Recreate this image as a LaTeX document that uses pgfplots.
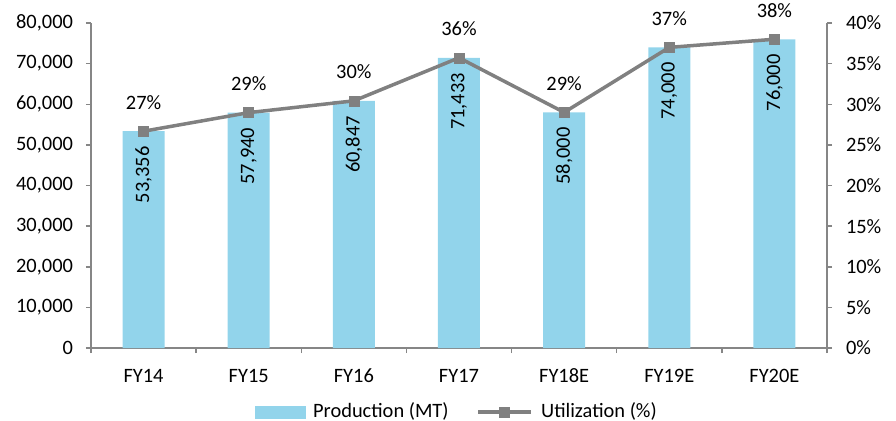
\documentclass[border=0pt]{standalone}
\usepackage{fontspec}
\setmainfont{Carlito}
\usepackage{pgfplots}
\usepackage{pgfplotstable}
\pgfplotsset{compat=1.18}

\definecolor{barblue}{RGB}{146,212,235}
\definecolor{linegray}{RGB}{128,128,128}
\definecolor{axisgray}{RGB}{134,134,134}

\pgfplotsset{
  utillegend/.style={legend image code/.code={%
    \draw[mark repeat=2,mark phase=2,##1] plot coordinates {(0bp,0bp) (26bp,0bp) (53bp,0bp)};
    \path (59bp,0bp);}},
  prodlegend/.style={legend image code/.code={%
    \fill[barblue] (0bp,-6bp) rectangle (50bp,6bp);
    \path (56bp,0bp);}},
}

% production (MT) and capacity utilization (%)
\pgfplotstableread{
idx prod  util
0   53356 26.68
1   57940 28.97
2   60847 30.42
3   71433 35.72
4   58000 29.00
5   74000 37.00
6   76000 38.00
}\data

\begin{document}
\fontsize{20.5}{24}\selectfont
\begin{tikzpicture}
\pgfplotsset{
  base/.style={
    scale only axis, width=736bp, height=325bp,
    xmin=-0.5, xmax=6.5,
    font=\fontsize{20.5}{24}\selectfont,
    tick align=outside,
    major tick length=5bp, minor tick length=5bp,
    every tick/.style={axisgray, line width=1.5bp},
    axis line style={axisgray, line width=1.5bp},
    /pgf/number format/assume math mode=true,
    /pgf/number format/1000 sep={,},
    clip=false,
  }
}
\begin{axis}[base,
  axis x line*=bottom, axis y line*=left,
  ymin=0, ymax=80000, ytick={0,10000,...,80000},
  scaled y ticks=false,
  yticklabel style={xshift=-6bp},
  xtick={0,...,6},
  xticklabels={FY14,FY15,FY16,FY17,FY18E,FY19E,FY20E},
  xticklabel style={yshift=-9bp},
  major x tick style={draw=none},
  minor xtick={-0.5,0.5,...,6.5},
]
\addplot[ybar, bar width=42bp, fill=barblue, draw=none,
  nodes near coords,
  every node near coord/.append style={yshift=-15bp, rotate=90, anchor=east, inner sep=0pt, text=black}]
  table[x=idx, y=prod] {\data};
\end{axis}

\begin{axis}[base,
  axis x line=none, axis y line*=right,
  ymin=0, ymax=40, ytick={0,5,...,40},
  yticklabel={\pgfmathprintnumber{\tick}\%},
  yticklabel style={xshift=7bp},
  legend columns=2,
  legend style={at={(0.497,-0.197)}, anchor=center, draw=none,
    font=\fontsize{20.5}{24}\selectfont,
    /tikz/every even column/.append style={column sep=26bp}},
]
\addlegendimage{prodlegend}
\addlegendentry{Production (MT)}
\addplot[linegray, line width=3.5bp, mark=square*, mark size=5bp,
  mark options={solid, line width=0.5bp, fill=linegray},
  utillegend,
  nodes near coords={\pgfmathprintnumber[fixed,precision=0]{\pgfplotspointmeta}\%},
  every node near coord/.append style={anchor=center, yshift=29bp, text=black}]
  table[x=idx, y=util] {\data};
\addlegendentry{Utilization (\%)}
\end{axis}
\pgfresetboundingbox
\path[use as bounding box] (-91bp,-73bp) rectangle (805bp,348bp);
\end{tikzpicture}
\end{document}
